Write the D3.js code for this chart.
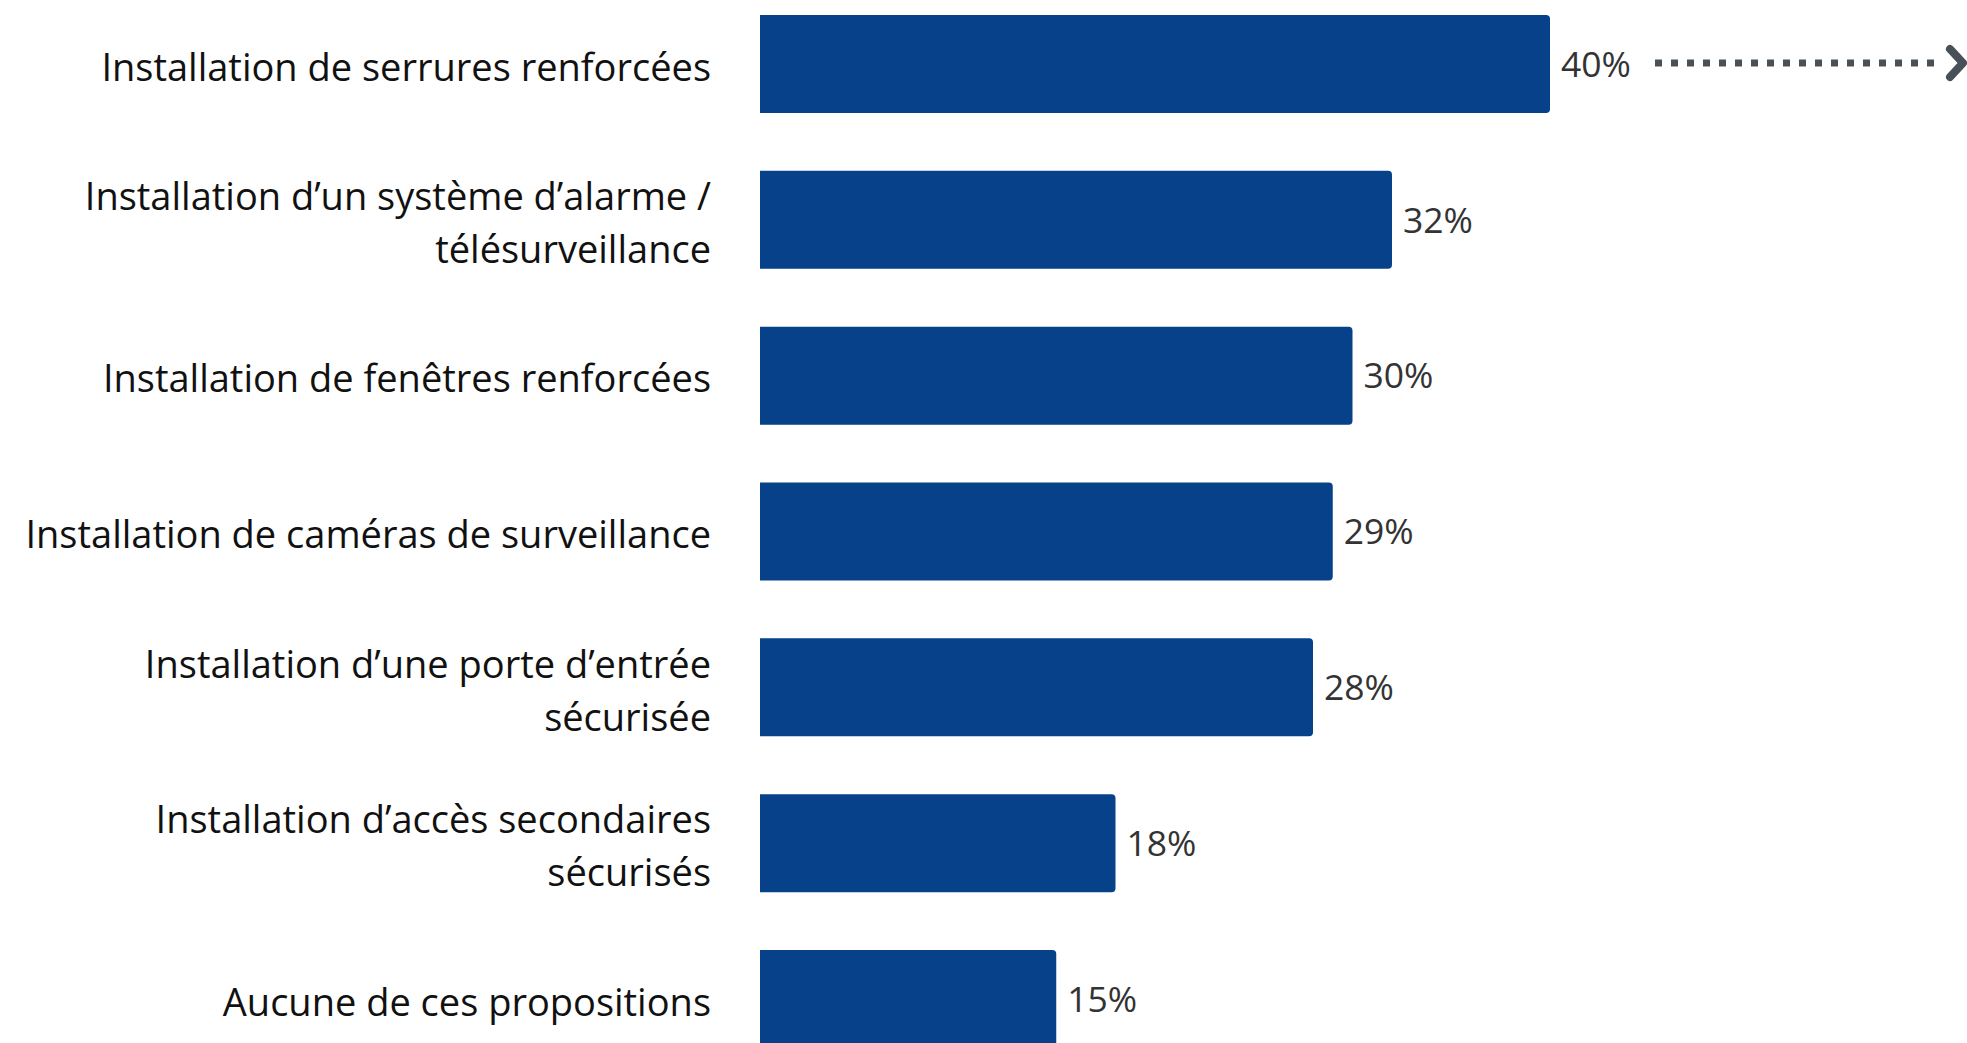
<!DOCTYPE html>
<html><head><meta charset="utf-8">
<script src="https://cdn.jsdelivr.net/npm/d3@7"></script>
<style>html,body{margin:0;padding:0;background:#fff;overflow:hidden}</style>
</head><body>
<script>
const categories = [
  ["Installation de serrures renforcées"],
  ["Installation d’un système d’alarme /", "télésurveillance"],
  ["Installation de fenêtres renforcées"],
  ["Installation de caméras de surveillance"],
  ["Installation d’une porte d’entrée", "sécurisée"],
  ["Installation d’accès secondaires", "sécurisés"],
  ["Aucune de ces propositions"]
];
const values = [40, 32, 30, 29, 28, 18, 15];
const valueLabels = ["40%", "32%", "30%", "29%", "28%", "18%", "15%"];

const W = 1967, H = 1043;
const svg = d3.select("body").append("svg").attr("width", W).attr("height", H);

const keys = categories.map(c => c.join(" "));
const y = d3.scaleBand().domain(keys).range([15, 1048]).paddingInner(0.371).paddingOuter(0);
const x = d3.scaleLinear().domain([0, 40]).range([760, 1550]);

function barPath(x0, x1, y0, h, r) {
  const p = d3.path();
  p.moveTo(x0, y0);
  p.lineTo(x1 - r, y0);
  p.quadraticCurveTo(x1, y0, x1, y0 + r);
  p.lineTo(x1, y0 + h - r);
  p.quadraticCurveTo(x1, y0 + h, x1 - r, y0 + h);
  p.lineTo(x0, y0 + h);
  p.closePath();
  return p.toString();
}

svg.selectAll("path.bar").data(values).join("path")
  .attr("class", "bar")
  .attr("fill", "#06418a")
  .attr("d", (d, i) => barPath(x(0), x(d), y(keys[i]), y.bandwidth(), 4));

svg.selectAll("text.val").data(values).join("text")
  .attr("class", "val")
  .attr("x", d => x(d) + 11)
  .attr("y", (d, i) => y(keys[i]) + y.bandwidth() / 2)
  .attr("dy", "0.36em")
  .attr("font-family", "Open Sans")
  .attr("font-size", 35.5)
  .attr("fill", "#333")
  .text((d, i) => valueLabels[i]);

const lh = 53;
const lab = svg.selectAll("text.cat").data(categories).join("text")
  .attr("class", "cat")
  .attr("font-family", "Open Sans")
  .attr("font-size", 38)
  .attr("fill", "#111")
  .attr("text-anchor", "end");
lab.each(function (lines, i) {
  const cy = y(keys[i]) + y.bandwidth() / 2 + 3;
  const t = d3.select(this);
  lines.forEach((ln, j) => {
    t.append("tspan")
      .attr("x", 711)
      .attr("y", cy + (j - (lines.length - 1) / 2) * lh)
      .attr("dy", "0.36em")
      .text(ln);
  });
});

// dotted arrow next to the top bar
const ay = y(keys[0]) + y.bandwidth() / 2 - 1;
svg.append("line")
  .attr("x1", 1655).attr("x2", 1940)
  .attr("y1", ay).attr("y2", ay)
  .attr("stroke", "#4a5058")
  .attr("stroke-width", 7)
  .attr("stroke-dasharray", "7 9");
svg.append("path")
  .attr("d", `M${1950},${ay - 14} L${1963},${ay} L${1950},${ay + 14}`)
  .attr("fill", "none")
  .attr("stroke", "#4a5058")
  .attr("stroke-width", 8)
  .attr("stroke-linecap", "round")
  .attr("stroke-linejoin", "round");
</script>
</body></html>
